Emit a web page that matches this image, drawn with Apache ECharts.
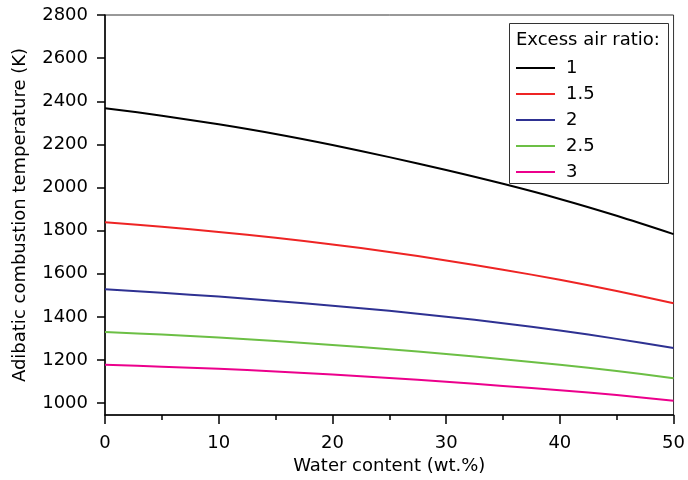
<!DOCTYPE html>
<html>
<head>
<meta charset="utf-8">
<script src="https://cdn.jsdelivr.net/npm/echarts@6/dist/echarts.min.js"></script>
<style>
  html, body { margin: 0; padding: 0; background: #fff; }
  #chart { width: 688px; height: 480px; }
</style>
</head>
<body>
<div id="chart"></div>
<script>
  // water content (wt.%)
  var waterContent = [0, 5, 10, 15, 20, 25, 30, 35, 40, 45, 50];
  // adiabatic combustion temperature (K) per excess air ratio
  var ratioNames = ["1", "1.5", "2", "2.5", "3"];
  var tempRatio1 = [2368, 2333, 2293, 2248, 2197, 2141, 2081, 2017, 1947, 1869, 1784];
  var tempRatio15 = [1839, 1818, 1794, 1767, 1736, 1701, 1662, 1619, 1572, 1520, 1463];
  var tempRatio2 = [1528, 1512, 1494, 1474, 1452, 1428, 1401, 1371, 1337, 1298, 1256];
  var tempRatio25 = [1330, 1318, 1304, 1288, 1270, 1250, 1228, 1204, 1178, 1149, 1115];
  var tempRatio3 = [1178, 1169, 1159, 1147, 1133, 1117, 1099, 1080, 1060, 1038, 1011];
  var yTicks = [1000, 1200, 1400, 1600, 1800, 2000, 2200, 2400, 2600, 2800];

  var colors = ["#000000", "#ee2424", "#2e3192", "#6cbf45", "#ec008c"];
  var allData = [tempRatio1, tempRatio15, tempRatio2, tempRatio25, tempRatio3];
  var fontName = "DejaVu Sans";
  var fs = 18;

  function pairs(ys) {
    return waterContent.map(function (x, i) { return [x, ys[i]]; });
  }

  var chart = echarts.init(document.getElementById("chart"));

  var series = ratioNames.map(function (name, i) {
    return {
      name: name,
      type: "line",
      smooth: 0.3,
      symbol: "none",
      showSymbol: false,
      lineStyle: { color: colors[i], width: 2 },
      itemStyle: { color: colors[i] },
      data: pairs(allData[i]),
    };
  });

  var option = {
    animation: false,
    textStyle: { fontFamily: fontName },
    grid: {
      left: 105,
      right: 12,
      top: 15,
      bottom: 65,
      show: true,
      borderColor: "#333",
      borderWidth: 1,
    },
    graphic: [
      {
        type: "rect",
        left: 509,
        top: 23,
        shape: { width: 159, height: 160 },
        style: { fill: "#fff", stroke: "#333", lineWidth: 1 },
        z: 10,
      },
      {
        type: "text",
        left: 516,
        top: 31,
        style: { text: "Excess air ratio:", font: fs + "px " + fontName, fill: "#000" },
        z: 11,
      },
    ],
    legend: {
      orient: "vertical",
      left: 516,
      top: 59,
      padding: 0,
      icon: "rect",
      itemWidth: 39,
      itemHeight: 2,
      itemGap: 8,
      z: 12,
      textStyle: { fontSize: fs, lineHeight: 17, color: "#000", fontFamily: fontName, padding: [0, 0, 0, 6] },
      data: ratioNames,
    },
    xAxis: {
      type: "value",
      min: 0,
      max: 50,
      interval: 10,
      name: "Water content (wt.%)",
      nameLocation: "middle",
      nameGap: 41,
      nameTextStyle: { fontSize: fs, color: "#000" },
      axisLine: { lineStyle: { color: "#000", width: 1.5 } },
      axisTick: { inside: false, length: 9, lineStyle: { color: "#000", width: 1.5 } },
      minorTick: { show: true, splitNumber: 2, length: 5, lineStyle: { color: "#000", width: 1.5 } },
      axisLabel: { fontSize: fs, color: "#000", margin: 19 },
      splitLine: { show: false },
    },
    yAxis: {
      type: "value",
      min: 945,
      max: 2800,
      name: "Adibatic combustion temperature (K)",
      nameLocation: "middle",
      nameGap: 76,
      nameTextStyle: { fontSize: fs, color: "#000" },
      axisLine: { show: true, lineStyle: { color: "#000", width: 1.5 } },
      axisTick: { show: true, inside: false, length: 8, customValues: yTicks, lineStyle: { color: "#000", width: 1.5 } },
      axisLabel: {
        fontSize: fs,
        color: "#000",
        margin: 17,
        customValues: yTicks,
        formatter: function (v) { return String(v); },
      },
      splitLine: { show: false },
    },
    series: series,
  };

  chart.setOption(option);
</script>
</body>
</html>
